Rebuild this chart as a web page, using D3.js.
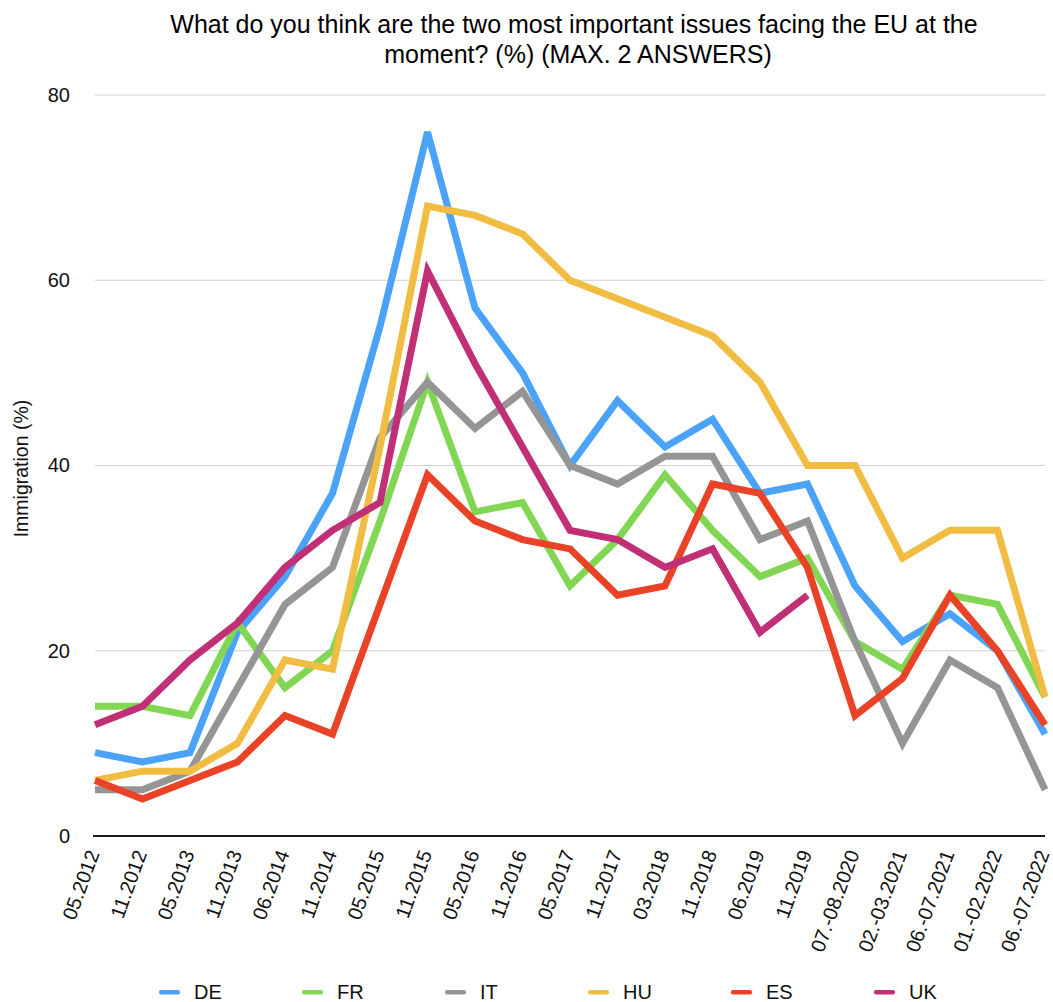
<!DOCTYPE html>
<html>
<head>
<meta charset="utf-8">
<script src="https://cdn.jsdelivr.net/npm/d3@7"></script>
<style>
  html, body { margin: 0; padding: 0; background: #fff; }
  svg { display: block; font-family: "Liberation Sans", Arial, Helvetica, sans-serif; }
</style>
</head>
<body>
<svg id="chart" width="1053" height="1002"></svg>
<script>
// Survey waves (x axis)
const waves = ["05.2012", "11.2012", "05.2013", "11.2013", "06.2014", "11.2014", "05.2015",
  "11.2015", "05.2016", "11.2016", "05.2017", "11.2017", "03.2018", "11.2018", "06.2019",
  "11.2019", "07.-08.2020", "02.-03.2021", "06.-07.2021", "01.-02.2022", "06.-07.2022"];

// Share naming immigration as a top issue (%), per country
const DE = [9, 8, 9, 22, 28, 37, 55, 76, 57, 50, 40, 47, 42, 45, 37, 38, 27, 21, 24, 20, 11];
const FR = [14, 14, 13, 23, 16, 20, 34, 49, 35, 36, 27, 32, 39, 33, 28, 30, 21, 18, 26, 25, 15];
const IT = [5, 5, 7, 16, 25, 29, 43, 49, 44, 48, 40, 38, 41, 41, 32, 34, 21, 10, 19, 16, 5];
const HU = [6, 7, 7, 10, 19, 18, 42, 68, 67, 65, 60, 58, 56, 54, 49, 40, 40, 30, 33, 33, 15];
const ES = [6, 4, 6, 8, 13, 11, 25, 39, 34, 32, 31, 26, 27, 38, 37, 29, 13, 17, 26, 20, 12];
const UK = [12, 14, 19, 23, 29, 33, 36, 61, 51, 42, 33, 32, 29, 31, 22, 26, null, null, null, null, null];

const yTicks = [0, 20, 40, 60, 80];

const seriesList = [
  { name: "DE", values: DE, color: "#4aa3f8" },
  { name: "FR", values: FR, color: "#81d654" },
  { name: "IT", values: IT, color: "#959595" },
  { name: "HU", values: HU, color: "#f0bd42" },
  { name: "ES", values: ES, color: "#e94227" },
  { name: "UK", values: UK, color: "#c12f77" }
];

const svg = d3.select("#chart");
const plotLeft = 95, plotRight = 1045, plotTop = 95, plotBottom = 836;

const x = d3.scalePoint().domain(waves).range([plotLeft, plotRight]);
const y = d3.scaleLinear().domain([0, 80]).range([plotBottom, plotTop]);

// Title
const title = svg.append("text")
  .attr("x", 574).attr("y", 33)
  .attr("text-anchor", "middle")
  .attr("font-size", 25)
  .attr("fill", "#000");
title.append("tspan").attr("x", 574).attr("dy", 0)
  .text("What do you think are the two most important issues facing the EU at the");
title.append("tspan").attr("x", 578).attr("dy", 30)
  .text("moment? (%) (MAX. 2 ANSWERS)");

// Horizontal grid
svg.append("g")
  .selectAll("line")
  .data(yTicks.filter(d => d > 0))
  .join("line")
  .attr("x1", plotLeft).attr("x2", plotRight)
  .attr("y1", d => y(d)).attr("y2", d => y(d))
  .attr("stroke", "#d0d0d0").attr("stroke-width", 1.2);

// Y axis labels
const yAxis = d3.axisLeft(y).tickValues(yTicks).tickSize(0).tickPadding(25);
const yg = svg.append("g").attr("transform", `translate(${plotLeft},0)`).call(yAxis);
yg.select(".domain").remove();
yg.selectAll("text").attr("font-size", 20).attr("fill", "#111")
  .attr("font-family", "\"Liberation Sans\", Arial, sans-serif");

// Y axis title
svg.append("text")
  .attr("transform", `translate(28,${(plotTop + plotBottom) / 2 + 3}) rotate(-90)`)
  .attr("text-anchor", "middle")
  .attr("font-size", 19.5)
  .attr("fill", "#111")
  .text("Immigration (%)");

// Series lines
const line = d3.line()
  .defined(d => d != null)
  .x((d, i) => x(waves[i]))
  .y(d => y(d));

svg.append("g")
  .selectAll("path")
  .data(seriesList)
  .join("path")
  .attr("d", s => line(s.values))
  .attr("fill", "none")
  .attr("stroke", s => s.color)
  .attr("stroke-width", 7)
  .attr("stroke-linejoin", "miter")
  .attr("stroke-linecap", "butt");

// X axis baseline
svg.append("line")
  .attr("x1", plotLeft - 2).attr("x2", plotRight)
  .attr("y1", plotBottom).attr("y2", plotBottom)
  .attr("stroke", "#1a1a1a").attr("stroke-width", 2.2);

// X axis labels, rotated
svg.append("g")
  .selectAll("text")
  .data(waves)
  .join("text")
  .attr("transform", d => `translate(${x(d) - 1.5},${plotBottom + 15}) rotate(-70)`)
  .attr("text-anchor", "end")
  .attr("dy", "0.33em")
  .attr("font-size", 20)
  .attr("fill", "#111")
  .text(d => d);

// Legend
const legend = svg.append("g")
  .selectAll("g")
  .data(seriesList)
  .join("g")
  .attr("transform", (d, i) => `translate(${159 + i * 143},992)`);
legend.append("rect")
  .attr("x", 0).attr("y", -2).attr("width", 21).attr("height", 4.5).attr("rx", 2)
  .attr("fill", d => d.color);
legend.append("text")
  .attr("x", 35).attr("dy", "0.35em")
  .attr("font-size", 20)
  .attr("fill", "#111")
  .text(d => d.name);
</script>
</body>
</html>
